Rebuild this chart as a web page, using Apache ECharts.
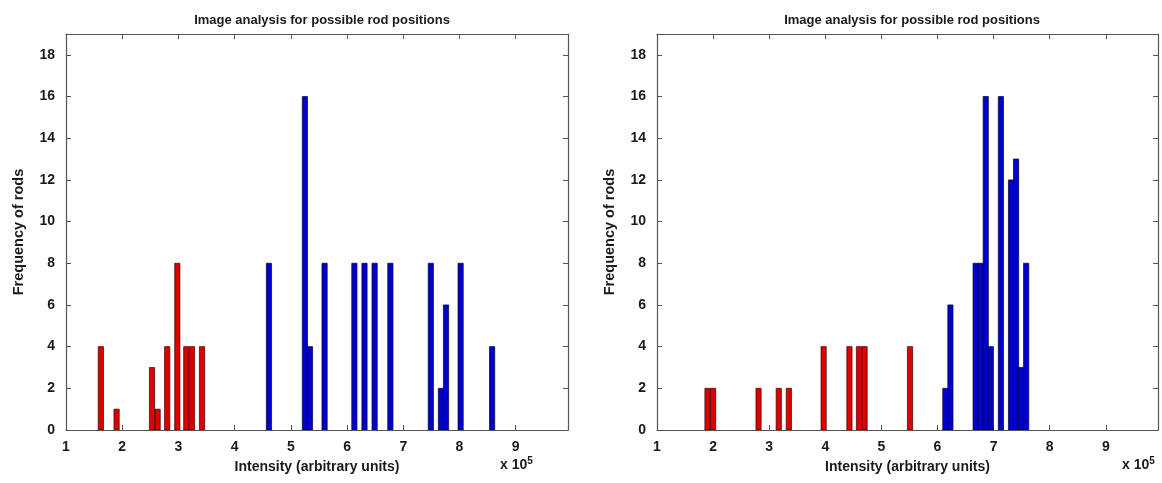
<!DOCTYPE html>
<html>
<head>
<meta charset="utf-8">
<script src="https://cdn.jsdelivr.net/npm/echarts@6/dist/echarts.min.js"></script>
<style>
  html, body { margin: 0; padding: 0; background: #fff; }
  #chart { width: 1162px; height: 483px; }
</style>
</head>
<body>
<div id="chart"></div>
<script>
// histogram bins, intensity in units of 1e5
var leftRedX = [1.62, 1.90, 2.53, 2.63, 2.80, 2.98, 3.14, 3.24, 3.42];
var leftRedY = [4, 1, 3, 1, 4, 8, 4, 4, 4];
var leftBlueX = [4.61, 5.25, 5.34, 5.60, 6.13, 6.31, 6.49, 6.77, 7.49, 7.67, 7.76, 8.02, 8.58];
var leftBlueY = [8, 16, 4, 8, 8, 8, 8, 8, 8, 2, 6, 8, 4];

var rightRedX = [1.90, 2.00, 2.81, 3.17, 3.35, 3.97, 4.43, 4.60, 4.70, 5.51];
var rightRedY = [2, 2, 2, 2, 2, 4, 4, 4, 4, 4];
var rightBlueX = [6.14, 6.23, 6.68, 6.77, 6.86, 6.95, 7.13, 7.31, 7.40, 7.49, 7.58];
var rightBlueY = [2, 6, 8, 8, 16, 4, 16, 12, 13, 3, 8];

var binWidth = 0.093;
var titleText = 'Image analysis for possible rod positions';
var xName = 'Intensity (arbitrary units)';
var yName = 'Frequency of rods';

var font = 'Liberation Sans, Arial, Helvetica, sans-serif';
var textColor = '#1a1a1a';
var frameColor = '#555';

function pairs(xs, ys) {
  return xs.map(function (x, i) { return [x, ys[i]]; });
}

// rectangles drawn through the axis scales
function makeRender(edge) {
  return function (params, api) {
    var x = api.value(0), y = api.value(1);
    var p0 = api.coord([x - binWidth / 2, y]);
    var p1 = api.coord([x + binWidth / 2, 0]);
    return {
      type: 'rect',
      shape: { x: p0[0], y: p0[1], width: p1[0] - p0[0], height: p1[1] - p0[1] },
      style: api.style({ stroke: edge, lineWidth: 0.7 })
    };
  };
}

function xLabel(v) {
  return Math.abs(v - Math.round(v)) < 1e-6 ? String(Math.round(v)) : '';
}
function yLabel(v) {
  return v % 2 === 0 ? String(v) : '';
}

function makeX(gridIndex, pos) {
  var main = pos === 'bottom';
  return {
    type: 'value', gridIndex: gridIndex, position: pos,
    min: 1, max: 9.93, interval: 1,
    name: main ? xName : '', nameLocation: 'middle', nameGap: 30,
    nameTextStyle: { fontFamily: font, fontWeight: 'bold', fontSize: 14, color: textColor },
    axisLine: { show: true, onZero: false, lineStyle: { color: frameColor, width: 1.2 } },
    axisTick: { show: true, inside: true, length: 5, lineStyle: { color: frameColor } },
    axisLabel: { show: main, formatter: xLabel, margin: 10,
      fontFamily: font, fontWeight: 'bold', fontSize: 14, color: textColor },
    splitLine: { show: false }
  };
}

function makeY(gridIndex, pos) {
  var main = pos === 'left';
  return {
    type: 'value', gridIndex: gridIndex, position: pos,
    min: 0, max: 19, interval: 2,
    name: main ? yName : '', nameLocation: 'middle', nameGap: 40,
    nameTextStyle: { fontFamily: font, fontWeight: 'bold', fontSize: 14.5, color: textColor },
    axisLine: { show: true, onZero: false, lineStyle: { color: frameColor, width: 1.2 } },
    axisTick: { show: true, inside: true, length: 5, lineStyle: { color: frameColor } },
    axisLabel: { show: main, formatter: yLabel, margin: 11,
      fontFamily: font, fontWeight: 'bold', fontSize: 14, color: textColor },
    splitLine: { show: false }
  };
}

function barSeries(xs, ys, color, edge, xi, yi) {
  return {
    type: 'custom', renderItem: makeRender(edge), clip: true,
    xAxisIndex: xi, yAxisIndex: yi,
    itemStyle: { color: color },
    encode: { x: 0, y: 1 },
    data: pairs(xs, ys)
  };
}

var sup = { s: { fontSize: 10, fontWeight: 'bold', fontFamily: font, verticalAlign: 'top', padding: [0, 0, 9, 0] } };

var chart = echarts.init(document.getElementById('chart'));
var option = {
  animation: false,
  title: [
    { text: titleText, left: 317, top: 9, textAlign: 'center',
      textStyle: { fontFamily: font, fontWeight: 'bold', fontSize: 13, color: textColor } },
    { text: titleText, left: 907, top: 9, textAlign: 'center',
      textStyle: { fontFamily: font, fontWeight: 'bold', fontSize: 13, color: textColor } }
  ],
  grid: [
    { left: 66, top: 34, width: 502, height: 396 },
    { left: 657, top: 34, width: 501, height: 396 }
  ],
  xAxis: [makeX(0, 'bottom'), makeX(0, 'top'), makeX(1, 'bottom'), makeX(1, 'top')],
  yAxis: [makeY(0, 'left'), makeY(0, 'right'), makeY(1, 'left'), makeY(1, 'right')],
  graphic: [
    { type: 'text', left: 500, top: 456,
      style: { text: 'x 10{s|5}', fontFamily: font, fontWeight: 'bold', fontSize: 14, fill: textColor, rich: sup } },
    { type: 'text', left: 1122, top: 456,
      style: { text: 'x 10{s|5}', fontFamily: font, fontWeight: 'bold', fontSize: 14, fill: textColor, rich: sup } }
  ],
  series: [
    barSeries(leftRedX, leftRedY, '#dd0000', '#330000', 0, 0),
    barSeries(leftBlueX, leftBlueY, '#0000cc', '#000033', 0, 0),
    barSeries(rightRedX, rightRedY, '#dd0000', '#330000', 2, 2),
    barSeries(rightBlueX, rightBlueY, '#0000cc', '#000033', 2, 2)
  ]
};
option && chart.setOption(option);
</script>
</body>
</html>
